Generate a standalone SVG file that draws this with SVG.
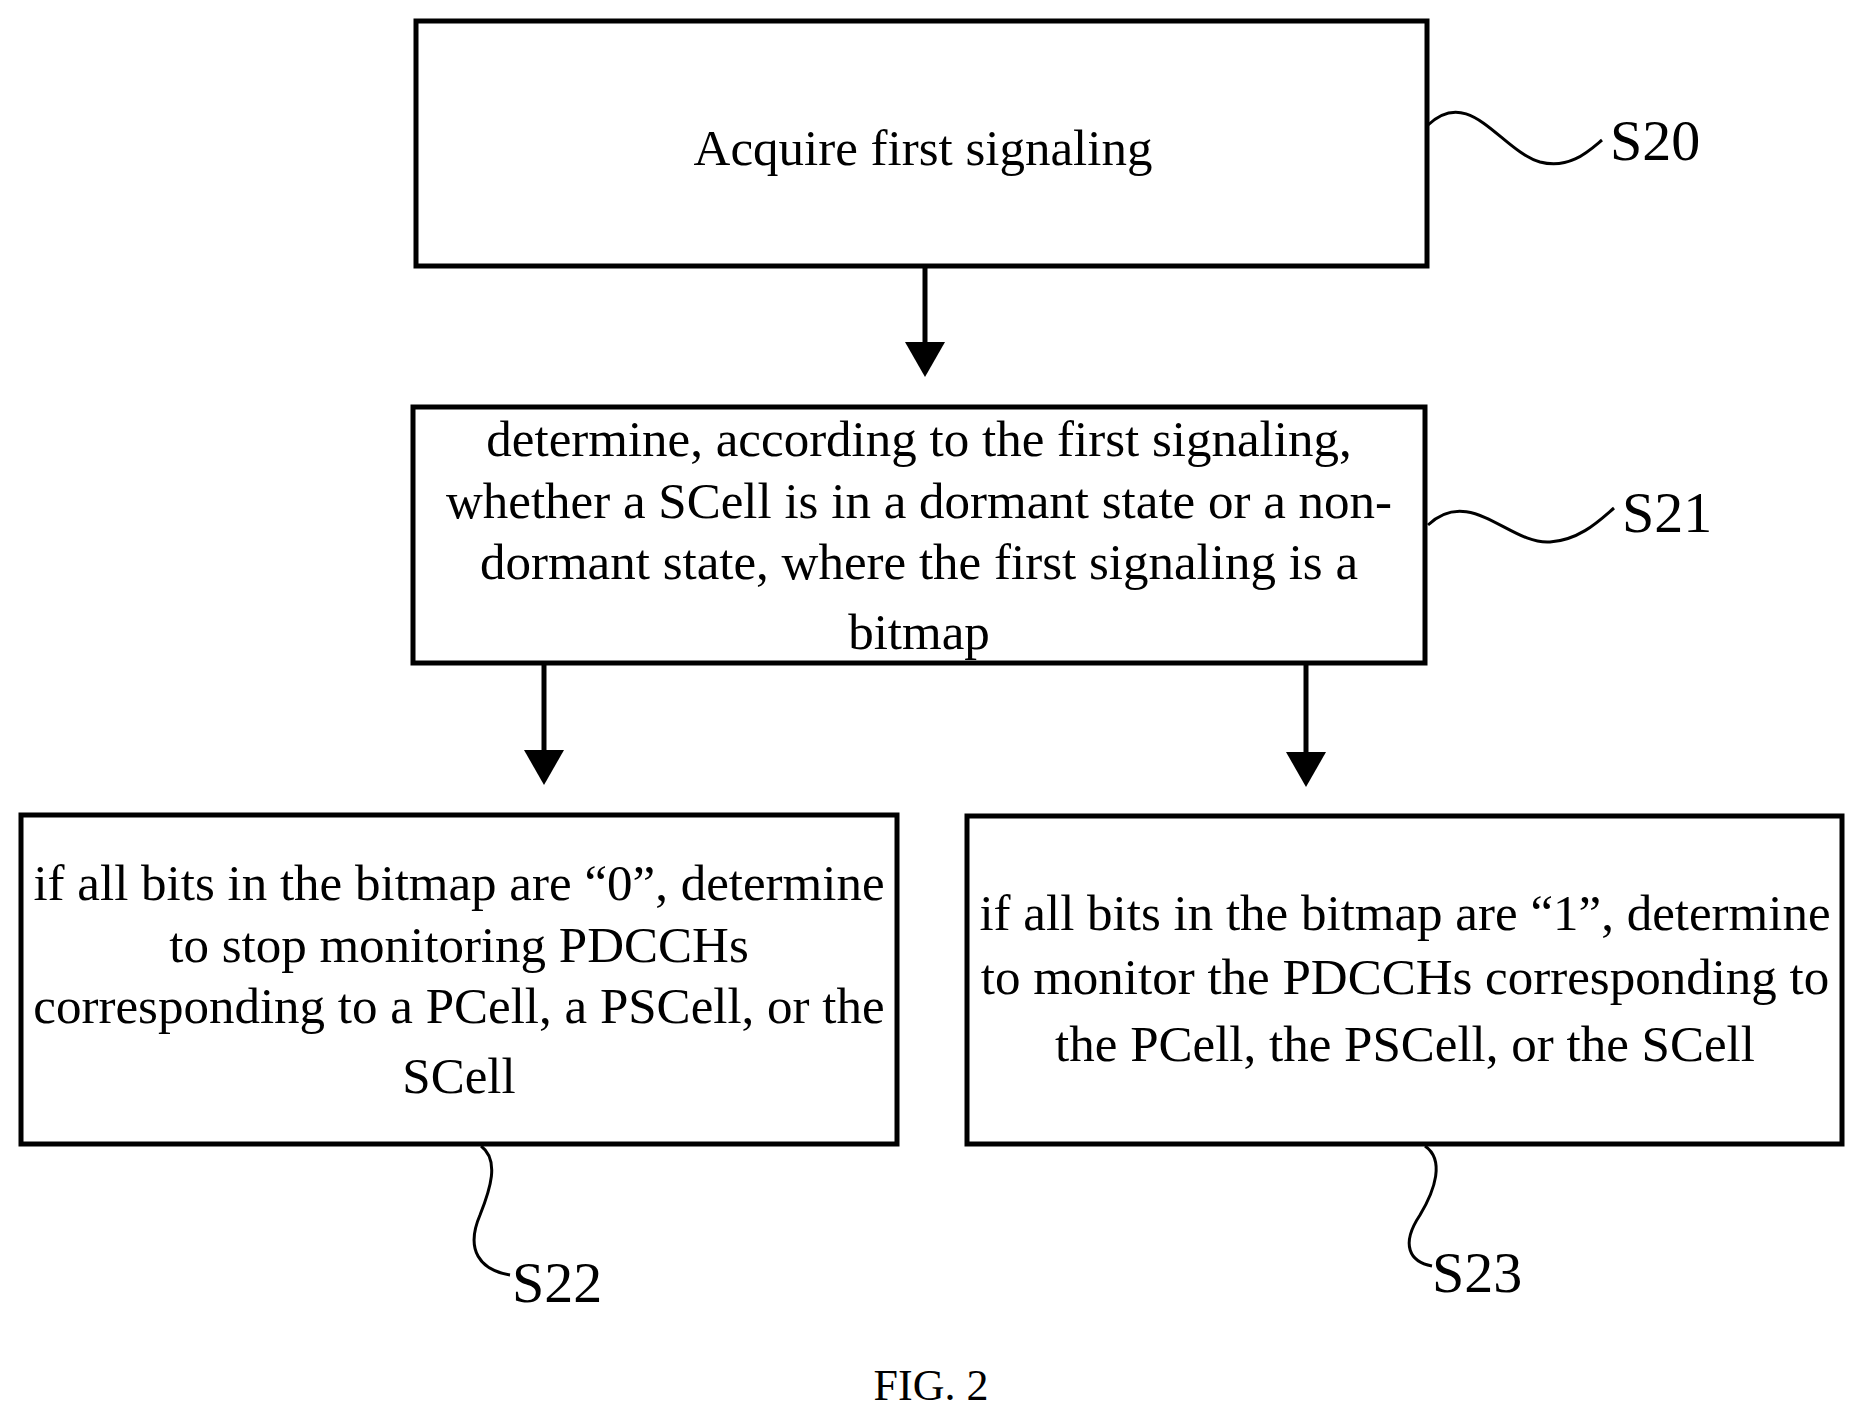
<svg xmlns="http://www.w3.org/2000/svg" width="1865" height="1422" viewBox="0 0 1865 1422">
<style>
.b{fill:#fff;stroke:#000;stroke-width:5}
.t{font-family:"Liberation Serif",serif;font-size:51px;text-anchor:middle;fill:#000}
.l{font-family:"Liberation Serif",serif;font-size:58px;fill:#000}
.c{fill:none;stroke:#000;stroke-width:5}
.s{fill:none;stroke:#000;stroke-width:3}
</style>
<defs><marker id="a" markerWidth="8" markerHeight="8" refX="6" refY="4" orient="auto" markerUnits="strokeWidth"><path d="M0,0 L7,4 L0,8 z" fill="#000"/></marker></defs>
<rect width="1865" height="1422" fill="#fff"/>
<g id="n20"><rect class="b" x="416" y="21" width="1011" height="245"/><text class="t" x="923" y="165">Acquire first signaling</text></g>
<g id="n21"><rect class="b" x="413" y="407" width="1012" height="256"/>
<text class="t" x="919" y="456">determine, according to the first signaling,</text>
<text class="t" x="919" y="518">whether a SCell is in a dormant state or a non-</text>
<text class="t" x="919" y="579">dormant state, where the first signaling is a</text>
<text class="t" x="919" y="649">bitmap</text></g>
<g id="n22"><rect class="b" x="21" y="815" width="876" height="329"/>
<text class="t" x="459" y="900">if all bits in the bitmap are “0”, determine</text>
<text class="t" x="459" y="962">to stop monitoring PDCCHs</text>
<text class="t" x="459" y="1023">corresponding to a PCell, a PSCell, or the</text>
<text class="t" x="459" y="1093">SCell</text></g>
<g id="n23"><rect class="b" x="967" y="816" width="875" height="328"/>
<text class="t" x="1405" y="930">if all bits in the bitmap are “1”, determine</text>
<text class="t" x="1405" y="994">to monitor the PDCCHs corresponding to</text>
<text class="t" x="1405" y="1061">the PCell, the PSCell, or the SCell</text></g>
<g id="connectors">
<line class="c" x1="925" y1="266" x2="925" y2="372" marker-end="url(#a)"/>
<line class="c" x1="544" y1="663" x2="544" y2="780" marker-end="url(#a)"/>
<line class="c" x1="1306" y1="663" x2="1306" y2="782" marker-end="url(#a)"/>
</g>
<g id="labels">
<path class="s" d="M1428,125 C1470,85 1500,150 1540,162 C1570,170 1590,150 1602,140"/>
<text class="l" x="1610" y="160">S20</text>
<path class="s" d="M1428,525 C1470,485 1510,545 1550,542 C1580,540 1600,520 1614,508"/>
<text class="l" x="1622" y="532">S21</text>
<path class="s" d="M481,1146 C500,1160 490,1190 480,1215 C465,1250 480,1270 510,1275"/>
<text class="l" x="512" y="1302">S22</text>
<path class="s" d="M1425,1146 C1445,1160 1435,1190 1420,1215 C1400,1245 1410,1262 1432,1266"/>
<text class="l" x="1432" y="1292">S23</text>
<text class="t" x="931" y="1400" style="font-size:44px">FIG. 2</text>
</g>
</svg>
